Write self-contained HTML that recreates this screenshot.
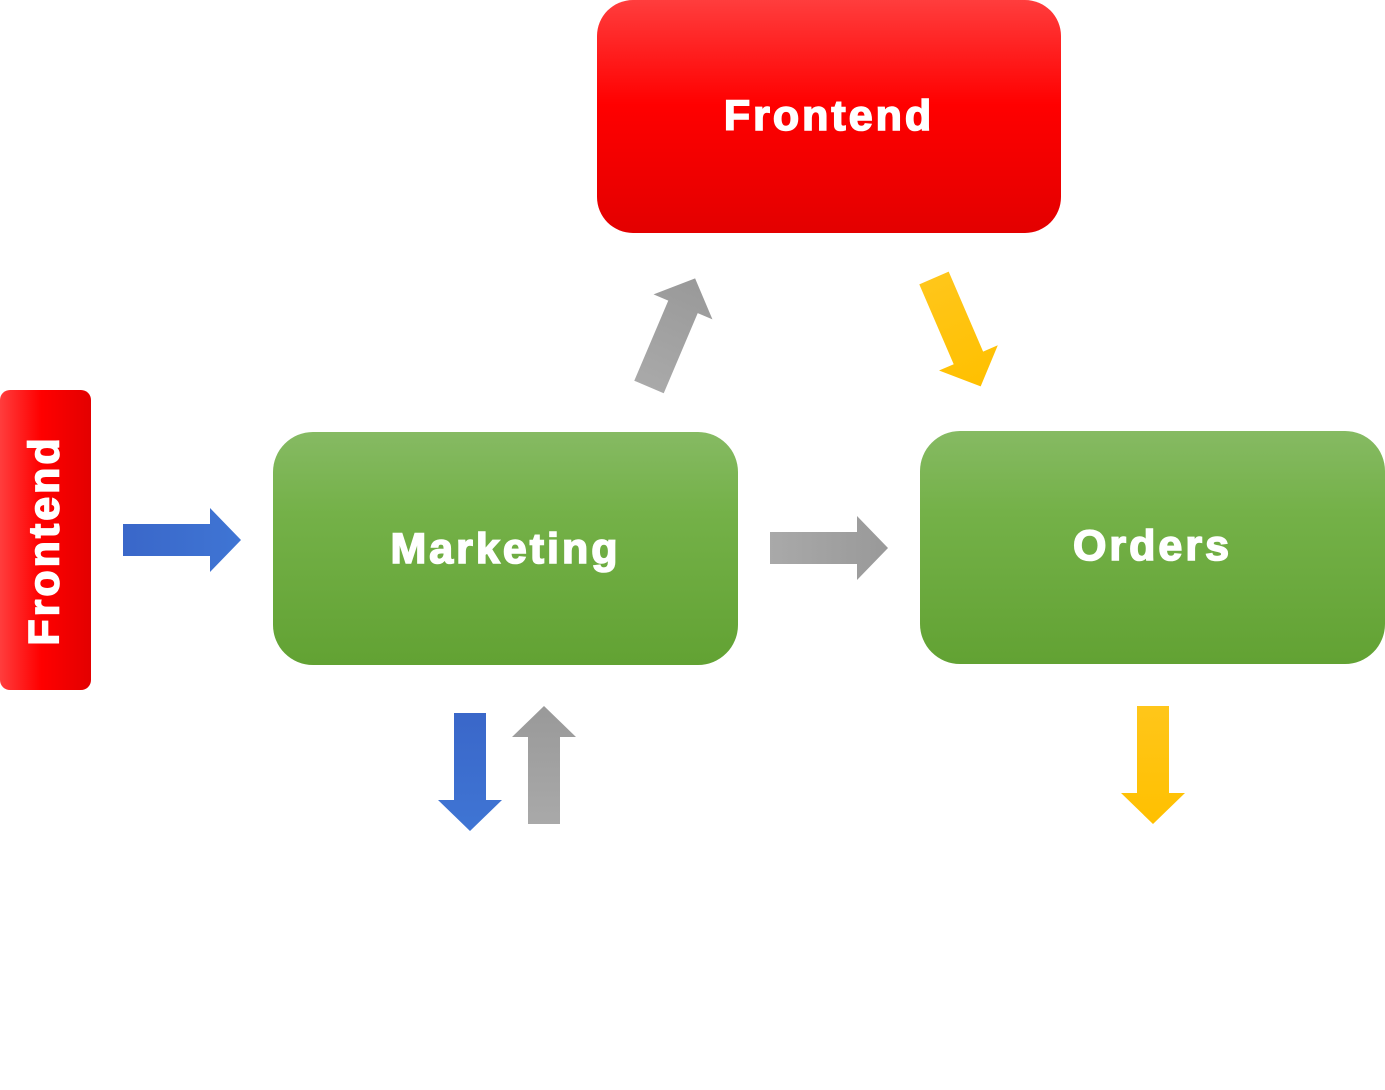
<!DOCTYPE html>
<html><head><meta charset="utf-8"><style>
html,body{margin:0;padding:0;background:#fff;}
body{width:1385px;height:1090px;position:relative;overflow:hidden;font-family:"Liberation Sans",Arial,sans-serif;}
.box{position:absolute;color:#fff;font-weight:bold;display:flex;align-items:center;justify-content:center;font-size:43px;letter-spacing:3px;-webkit-text-stroke:1.6px #fff;}
.red{background:linear-gradient(#ff3d3d,#ff0000 45%,#e30000);}
.green{background:linear-gradient(#86ba63,#74b148 35%,#62a233);}
svg{position:absolute;left:0;top:0;}
</style></head><body>
<div class="box red" style="left:597px;top:0;width:464px;height:233px;border-radius:36px;"><span style="margin-top:-1px">Frontend</span></div>
<div class="box red" style="left:0;top:390px;width:91px;height:300px;border-radius:10px;background:linear-gradient(90deg,#ff3d3d,#ff0000 45%,#e30000);"><span style="transform:rotate(-90deg);white-space:nowrap;display:block">Frontend</span></div>
<div class="box green" style="left:273px;top:432px;width:465px;height:233px;border-radius:40px;"><span style="margin-top:2px">Marketing</span></div>
<div class="box green" style="left:920px;top:431px;width:465px;height:233px;border-radius:40px;"><span style="margin-top:-2px">Orders</span></div>
<svg width="1385" height="1090" viewBox="0 0 1385 1090">
<defs>
<linearGradient id="bl" x1="0" y1="0" x2="1" y2="0"><stop offset="0" stop-color="#3a67c9"/><stop offset="1" stop-color="#3f75d4"/></linearGradient>
<linearGradient id="gr" x1="0" y1="0" x2="1" y2="0"><stop offset="0" stop-color="#a9a9a9"/><stop offset="1" stop-color="#999"/></linearGradient>
<linearGradient id="ye" x1="0" y1="0" x2="1" y2="0"><stop offset="0" stop-color="#ffc61a"/><stop offset="1" stop-color="#ffc000"/></linearGradient>
<path id="ar" d="M0,-16 L87,-16 L87,-32 L118,0 L87,32 L87,16 L0,16 Z"/>
</defs>
<use href="#ar" fill="url(#bl)" transform="translate(123,540)"/>
<use href="#ar" fill="url(#gr)" transform="translate(770,548)"/>
<use href="#ar" fill="url(#bl)" transform="translate(470,713) rotate(90)"/>
<use href="#ar" fill="url(#gr)" transform="translate(544,824) rotate(-90)"/>
<use href="#ar" fill="url(#ye)" transform="translate(1153,706) rotate(90)"/>
<use href="#ar" fill="url(#gr)" transform="translate(649,387) rotate(-67)"/>
<use href="#ar" fill="url(#ye)" transform="translate(934,278) rotate(66.7)"/>
</svg>
</body></html>
